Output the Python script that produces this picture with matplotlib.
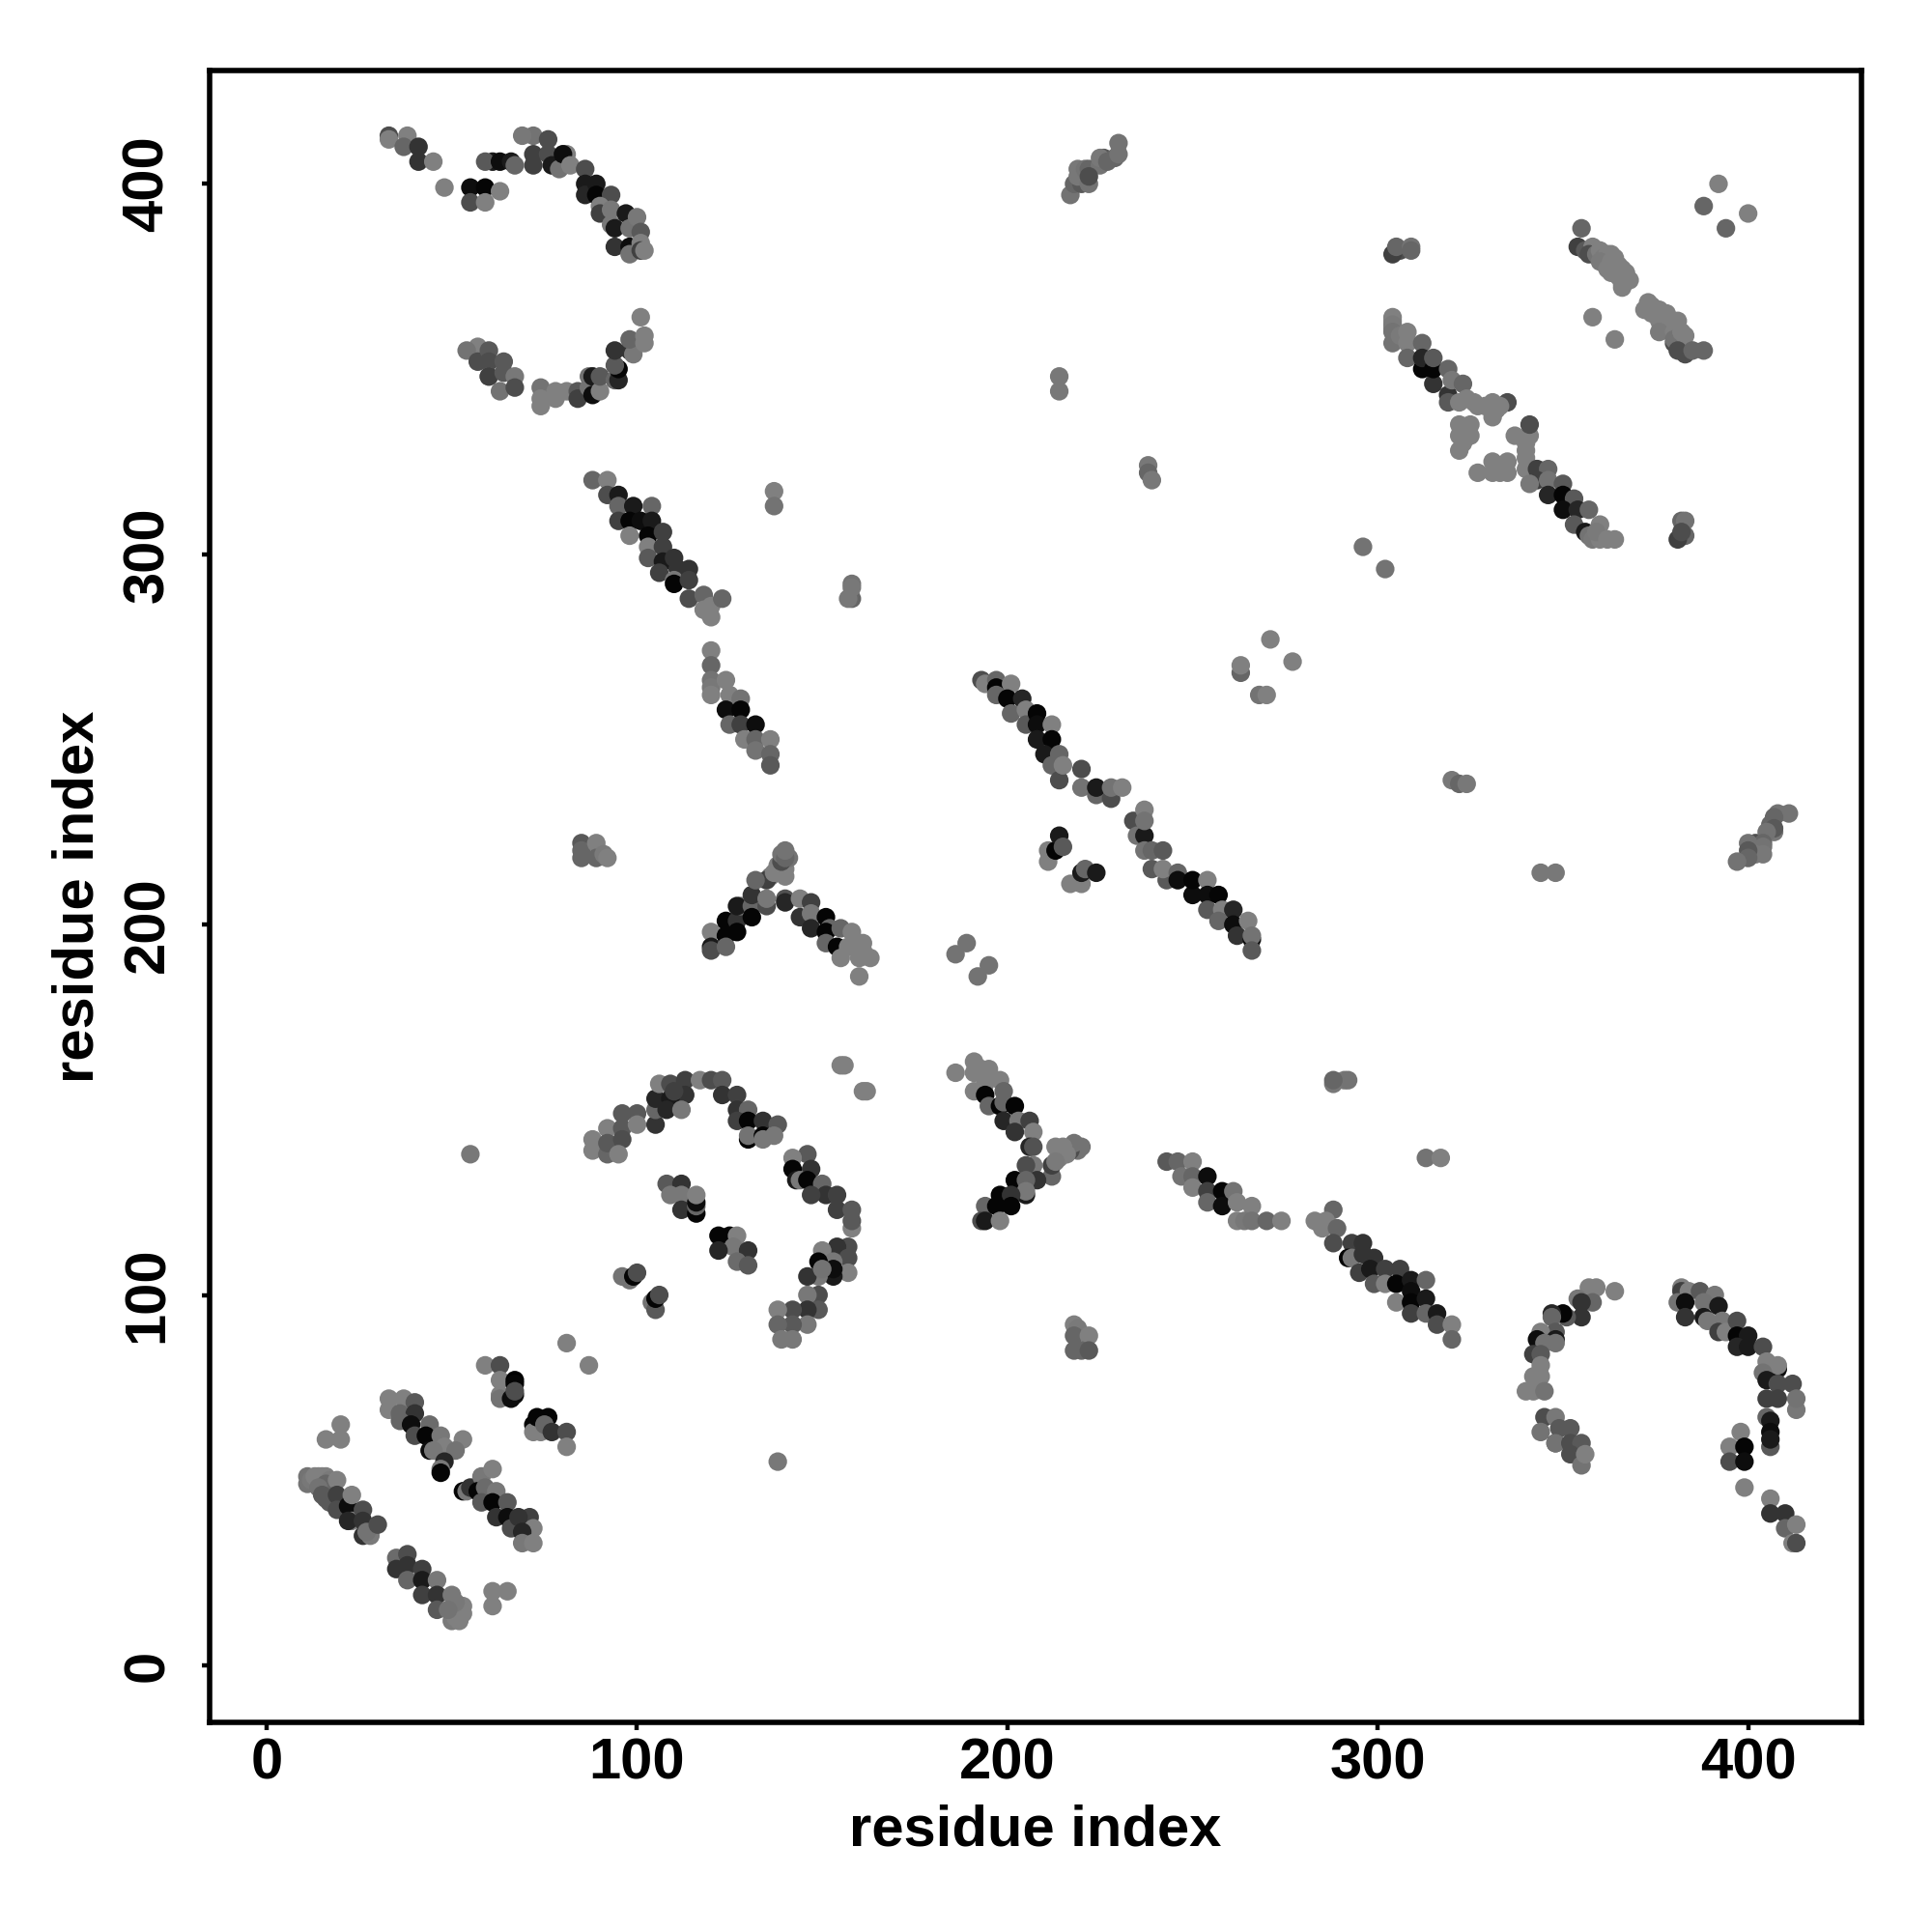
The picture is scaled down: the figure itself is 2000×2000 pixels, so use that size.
import matplotlib
matplotlib.use("Agg")
import matplotlib.pyplot as plt

plt.rcParams['font.family'] = ['Liberation Sans', 'DejaVu Sans']

# (residue i, residue j, grey level); drawn as they are
strand_a = [(11,49,.45),(11,51,.45),(12,50,.47),(13,51,.5),(14,51,.5),(15,51,.5),(16,51,.5),(17,50,.48),(16,49,.4),
            (14,48,.45),(15,46,.35),(16,45,.35),(17,44,.35),(19,50,.5),(19,46,.25),(19,42,.3),(22,43,.05),(23,46,.5),
            (23,39,.5),(22,39,.15),(26,42,.3),(26,39,.2),(26,35,.2),(28,35,.48),(27,36,.45),(30,38,.3)]
strand_b = [(35,29,.42),(38,30,.3),(35,26,.2),(38,27,.2),(42,26,.25),(38,23,.4),(42,23,.1),(46,23,.47),(42,19,.25),
            (46,19,.2),(50,19,.47),(46,15,.35),(50,12,.48),(52,12,.5),(53,14,.5),(53,16,.5),(51,13,.5),(52,15,.5),(51,17,.47),(49,15,.45)]
strand_c = [(33,72,.5),(37,72,.5),(40,71,.35),(33,69,.5),(36,68,.4),(40,68,.2),(36,66,.4),(39,65,.05),(44,65,.42),
            (40,62,.3),(43,62,.02),(47,62,.47),(48,59,.5),(53,61,.5),(51,58,.45),(44,58,.05),(45,58,.47),(48,55,.15),
            (47,53,.47),(47,52,.02)]
strand_d = [(53,47,.02),(54,47,.47),(55,48,.2),(58,51,.47),(61,53,.5),(57,47,.02),(59,48,.42),(58,44,.35),(62,47,.47),
            (61,44,.02),(65,44,.35),(62,40,.2),(65,40,.05),(66,37,.3),(71,40,.25),(68,40,.2),(72,37,.5),(69,36,.15),
            (69,33,.47),(72,33,.5)]
pairs_low = [(61,20,.5),(65,20,.5),(61,16,.5),(20,65,.5),(20,61,.5),(16,61,.5),(81,87,.5),(87,81,.5),
             (155,162,.5),(156,162,.5),(161,155,.5),(162,155,.5),(186,192,.45),(189,195,.45),(192,186,.45),(195,189,.45),
             (296,302,.45),(302,296,.45),(263,268,.4),(263,270,.5),(268,262,.45),(270,262,.5),(271,277,.5),(277,271,.5),
             (358,364,.5),(364,358,.5),(388,394,.4),(394,388,.4),(392,400,.5),(400,392,.5)]
strand_g = [(59,81,.5),(63,81,.3),(63,77,.5),(67,77,.0),(67,76,.02),(63,73,.5),(63,72,.45),(67,73,.05),(66,72,.05),(67,74,.3)]
strand_h = [(72,65,.02),(72,63,.5),(74,63,.5),(76,67,.02),(73,67,.02),(75,65,.4),(77,63,.2),(81,63,.3),(81,59,.5)]
strand_j = [(96,105,.45),(98,104,.45),(99,105,.02),(100,106,.3),(104,98,.45),(105,96,.35),(105,99,.02),(106,100,.3)]
arc_l = [(88,142,.5),(88,139,.5),(92,145,.5),(92,138,.4),(92,141,.35),(96,149,.35),(96,145,.35),(96,142,.3),(95,138,.5),
         (100,149,.35),(100,146,.5),(105,146,.2),(105,150,.4),(105,153,.15),(106,157,.5),(109,157,.3),(113,158,.25),
         (113,154,.2),(109,153,.1),(108,150,.15),(112,150,.47),(110,155,.25),(117,158,.5),(120,158,.3),(123,158,.35),
         (123,154,.2),(127,154,.25),(127,150,.2),(130,150,.4),(127,147,.25),(130,147,.02),(134,147,.2),(138,146,.35),
         (130,142,.02),(130,143,.45),(134,143,.02),(134,142,.47),(137,143,.47)]
arc_m = [(146,138,.35),(142,137,.5),(147,134,.2),(142,134,.02),(143,131,.1),(144,131,.47),(146,131,.02),(150,130,.4),
         (151,127,.2),(147,127,.25),(154,127,.25),(154,123,.25),(158,123,.35),(158,118,.5),(158,120,.35)]
arc_n = [(157,113,.3),(154,113,.2),(150,112,.5),(157,110,.3),(153,109,.47),(149,109,.02),(157,106,.5),(153,105,.1),
         (149,105,.47),(146,105,.2),(153,107,.05),(150,107,.45)]
arc_o = [(149,100,.3),(146,100,.47),(149,96,.35),(146,96,.2),(146,92,.47),(142,96,.3),(138,96,.5),(142,92,.35),
         (138,92,.4),(139,88,.47),(142,88,.47)]
strand_p = [(108,130,.35),(112,130,.2),(109,127,.47),(112,127,.47),(112,123,.2),(116,122,.02),(116,124,.4),(116,125,.05),(116,127,.5)]
strand_q = [(122,116,.02),(125,116,.02),(127,116,.5),(126,113,.47),(122,112,.15),(130,112,.2),(127,109,.42),(130,108,.35)]
band_mid = [(193,266,.3),(194,265,.5),(197,266,.4),(197,264,.02),(197,262,.4),(201,265,.5),(200,261,.02),(204,261,.15),
            (201,257,.4),(205,258,.5),(205,254,.35),(208,257,.02),(208,254,.05),(212,254,.5),(208,250,.1),(212,250,.02),
            (210,246,.1),(214,246,.4),(212,243,.4),(214,239,.3),(215,243,.5),(220,242,.3),(220,237,.45),(224,235,.4),
            (224,237,.1),(228,234,.3),(228,237,.45),(231,237,.5),(234,228,.3),(237,231,.5),(235,224,.45),(237,224,.1),
            (237,228,.45),(237,220,.45),(239,220,.4),(242,220,.35),(239,215,.35),(243,212,.35),(242,215,.5),(246,214,.4),
            (246,212,.05),(250,208,.05),(250,212,.02),(254,212,.5),(254,208,.05),(257,208,.02),(254,204,.35),(258,204,.5),
            (261,204,.15),(257,201,.4),(261,200,.05),(262,197,.2),(265,201,.5),(266,196,.05),(266,197,.45),(266,193,.35)]
strand_af = [(211,217,.5),(211,220,.5),(213,220,.02),(214,224,.1),(215,221,.35),(217,211,.5),(220,211,.5),(220,214,.1),
             (221,215,.4),(224,214,.1)]
band_top = [(304,364,.5),(304,363,.5),(304,362,.48),(304,361,.48),(304,360,.45),(304,357,.45),(306,359,.48),(308,360,.5),
            (308,357,.5),(308,353,.4),(312,357,.4),(312,350,.02),(312,353,.15),(315,346,.2),(315,350,.02),(315,353,.35),
            (319,350,.4),(319,343,.2),(319,341,.35),(320,347,.47),(323,346,.4),(324,342,.5),(322,341,.5),(326,341,.5),
            (327,340,.5),(329,340,.5),(331,337,.5),(331,341,.5),(332,339,.5),(335,341,.3),(333,340,.5),
            (322,335,.5),(325,335,.5),(323,334,.5),(324,333,.5),(322,332,.5),(325,332,.5),(323,330,.5),(322,328,.5),
            (341,332,.5),(337,332,.5),(341,335,.3),(340,330,.5),(340,328,.5),(340,326,.5),(340,323,.5),(331,325,.5),
            (333,324,.5),(335,325,.5),(331,322,.5),(333,322,.5),(335,322,.5),(327,322,.5),(343,323,.25),
            (346,323,.4),(343,320,.25),(341,319,.47),(346,320,.45),(350,319,.35),(346,316,.15),(350,316,.02),(353,315,.35),
            (350,312,.05),(354,312,.15),(357,312,.4),(353,308,.35),(356,306,.1),(360,308,.5),(357,305,.45),(358,304,.47),(360,304,.5),
            (359,306,.48),(362,304,.5),(364,304,.5)]
band_far = [(355,388,.4),(354,383,.25),(356,382,.35),(358,383,.5),(357,381,.3),(359,381,.45),(360,382,.5),(361,380,.48),(362,381,.5),
            (363,381,.5),(360,379,.48),(362,377,.5),(363,379,.5),(364,380,.5),(365,378,.5),(364,376,.5),(363,376,.5),(366,377,.5),
            (367,376,.5),(365,375,.5),(368,374,.5),(367,374,.5),(366,372,.5),(366,373,.5),(372,366,.5),(373,368,.5),(374,367,.5),
            (375,366,.5),(374,365,.5),(376,366,.5),(376,363,.5),(378,365,.5),(378,363,.5),(379,362,.5),(377,361,.5),(376,360,.48),
            (381,363,.5),(380,360,.5),(380,357,.3),(380,358,.45),(382,360,.5),(383,359,.5),(383,356,.5),(381,355,.3),(383,354,.3),
            (385,355,.4),(388,355,.4)]

# the same kind of triples, but each contact also appears across the diagonal
arm_t = [(186,160,.5),(191,163,.5),(191,160,.5),(193,161,.5),(195,161,.5),(195,159,.5),(198,158,.5),(191,155,.5),(194,157,.5),(194,154,.02),
         (199,155,.4),(195,151,.4),(198,151,.02),(199,152,.4),(202,151,.02),(199,147,.15),(203,147,.47),(206,147,.25),
         (202,144,.2),(207,144,.5),(206,140,.15),(207,140,.32)]
arm_u = [(220,140,.45),(218,140,.4),(219,139,.45),(217,139,.3),(218,141,.45),(213,140,.5),(215,140,.5),(214,137,.5),(216,138,.5),(212,132,.4),
         (212,135,.25),(213,136,.48),(207,135,.47),(205,135,.3),(208,131,.2),(202,131,.02),(205,131,.4),(205,127,.1),(205,128,.47),
         (198,127,.02),(201,127,.2),(194,124,.4),(197,124,.02),(201,124,.02),(193,120,.3),(194,120,.1),(198,120,.5)]
patch_v = [(218,92,.5),(219,91,.48),(218,89,.4),(222,89,.5),(218,85,.4),(220,85,.4),(222,85,.35)]
arm_w = [(243,136,.35),(246,136,.4),(250,136,.5),(247,132,.45),(250,132,.4),(254,132,.05),(250,129,.5),(254,128,.25),
         (258,128,.02),(261,128,.45),(254,125,.4),(258,124,.05),(262,125,.5),(266,124,.5),(262,120,.5),(264,120,.47),(266,120,.45),
         (270,120,.4),(274,120,.5)]
arm_x = [(283,120,.5),(285,118,.5),(288,123,.4),(286,120,.5),(289,118,.4),(288,114,.3),(293,114,.25),(296,114,.2),
         (292,110,.02),(293,110,.47),(296,111,.2),(299,110,.2),(295,106,.25),(298,107,.1),(302,107,.25),(306,107,.25),
         (299,103,.35),(302,103,.5),(305,103,.02),(309,104,.1),(313,104,.4),(309,101,.05),(305,98,.5),(309,98,.02),
         (313,99,.1),(309,95,.25),(313,95,.4),(316,95,.1),(316,92,.3),(320,92,.5),(320,88,.4)]
arc_z = [(364,101,.5),(359,102,.5),(357,102,.5),(358,98,.4),(354,99,.47),(355,98,.2),(355,94,.2),(351,94,.35),(350,95,.02),(347,95,.15),
         (347,94,.4),(348,90,.35),(344,90,.5),(348,88,.1),(348,87,.45),(343,88,.05),(345,87,.45),(342,84,.25),(344,84,.35),
         (344,81,.5),(342,78,.5),(344,78,.5),(340,74,.5),(342,74,.5),(345,74,.45)]
arc_aa = [(345,67,.3),(348,67,.47),(344,63,.45),(349,64,.35),(352,64,.35),(348,60,.25),(348,60,.45),(352,60,.3),
          (355,60,.35),(352,57,.3),(355,54,.45),(356,57,.5)]
arc_ab = [(382,102,.5),(382,101,.25),(384,101,.5),(381,98,.45),(383,98,.05),(383,94,.2),(387,101,.35),(391,100,.47),
          (388,98,.45),(392,97,.1),(388,94,.1),(389,93,.47),(393,93,.47),(392,90,.25),(394,90,.5),(397,93,.3),
          (397,89,.02),(400,89,.1),(397,86,.15),(400,86,.1),(404,86,.3),(405,82,.5),(408,80,.05),(408,81,.5),
          (404,79,.45),(405,77,.1),(408,76,.3),(412,76,.3),(405,72,.25),(408,72,.25),(413,69,.47),(413,72,.45)]
arc_ac = [(405,67,.4),(406,66,.1),(406,63,.05),(406,59,.35),(406,61,.1)]
arc_ad = [(398,63,.5),(395,59,.5),(399,59,.02),(395,55,.3),(399,55,.05),(399,48,.5)]
arc_ae = [(406,45,.5),(406,41,.2),(410,41,.2),(410,37,.4),(413,38,.5),(412,33,.5),(413,33,.3)]
patch_far = [(217,397,.45),(218,400,.4),(220,400,.35),(219,402,.47),(219,404,.47),(221,404,.45),(222,400,.45),(222,404,.4),(225,405,.45),(226,407,.35),
             (225,407,.47),(227,406,.4),(229,407,.4),(230,408,.45),(230,411,.45),(222,402,.3)]
lone_marks = [(55,138,.47),(214,344,.47),(214,348,.47),(238,324,.47),(238,322,.4),(239,320,.47),(313,137,.45),(317,137,.5),
              (291,158,.47),(288,157,.47),(292,158,.45),(288,158,.4),(382,309,.4),(383,309,.45),(383,305,.4),(381,304,.25),(382,306,.3)]

direct_sets = [strand_a, strand_b, strand_c, strand_d, pairs_low, strand_g, strand_h, strand_j,
               arc_l, arc_m, arc_n, arc_o, strand_p, strand_q, band_mid, strand_af, band_top, band_far]
mirror_sets = [arm_t, arm_u, patch_v, arm_w, arm_x, arc_z, arc_aa, arc_ab, arc_ac, arc_ad, arc_ae, patch_far, lone_marks]

x_ticks = [0, 100, 200, 300, 400]
axis_label = "residue index"

fig = plt.figure(figsize=(10, 10), dpi=200)
ax = fig.add_axes([217/2000, 1 - 1783/2000, 1710/2000, 1710/2000])

def draw(points):
    ax.scatter([p[0] for p in points], [p[1] for p in points], s=48, linewidths=0,
               c=[(p[2], p[2], p[2]) for p in points], zorder=3)

for group in direct_sets:
    draw(group)
for group in mirror_sets:
    draw(group)
    draw([(p[1], p[0], p[2]) for p in reversed(group)])

ax.set_xlim(-15.4, 430.6)
ax.set_ylim(-15.4, 430.6)
ax.set_xticks(x_ticks)
ax.set_yticks(x_ticks)
for s in ax.spines.values():
    s.set_linewidth(2.0)
ax.tick_params(axis='both', length=3, width=1.6, labelsize=21.5)
ax.tick_params(axis='x', pad=2.5)
ax.tick_params(axis='y', pad=10)
for t in ax.get_xticklabels():
    t.set_fontweight('bold')
for t in ax.get_yticklabels():
    t.set_fontweight('bold')
    t.set_rotation(90)
    t.set_va('center')
ax.set_xlabel(axis_label, fontsize=21.5, fontweight='bold', va='center')
ax.set_ylabel(axis_label, fontsize=21.5, fontweight='bold', va='center')
ax.xaxis.set_label_coords(0.5, -0.0655)
ax.yaxis.set_label_coords(-0.0795, 0.5)

fig.savefig("out.png", dpi=200, facecolor='white')
